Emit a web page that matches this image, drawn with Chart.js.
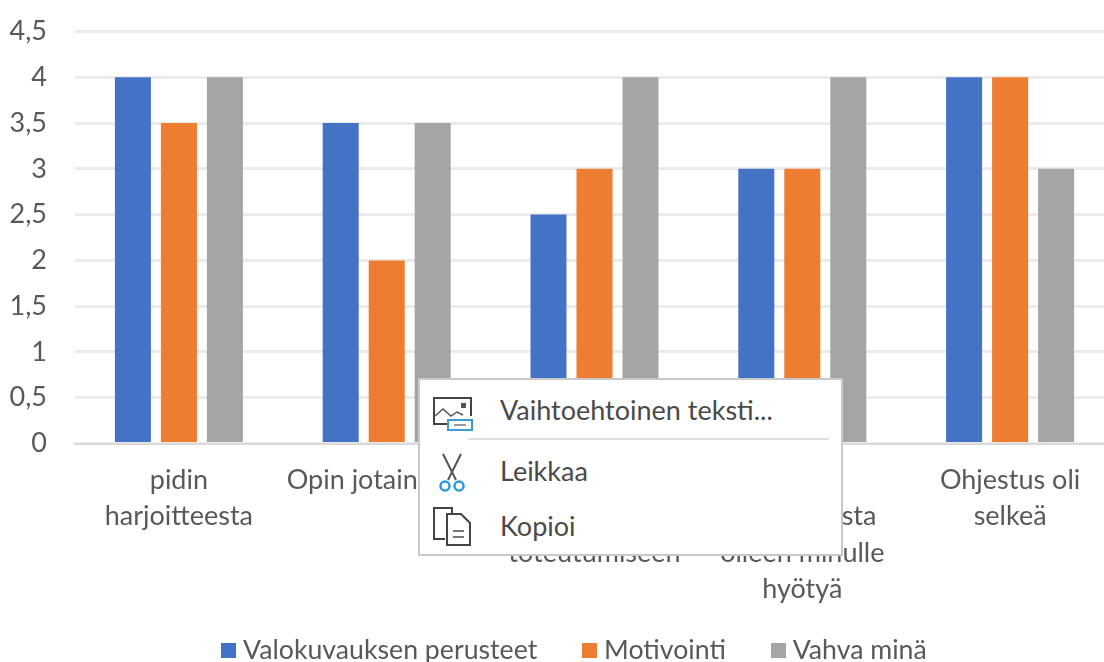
<!DOCTYPE html>
<html>
<head>
<meta charset="utf-8">
<script src="https://cdn.jsdelivr.net/npm/chart.js@4"></script>
<style>
    html, body { margin: 0; padding: 0; background: #fff; width: 1104px; height: 662px; overflow: hidden; }
    #wrap { position: relative; width: 1104px; height: 662px; overflow: hidden; filter: blur(0.6px); }
    canvas { position: absolute; left: 0; top: 0; }
    #menu { position: absolute; left: 418px; top: 378px; width: 421px; height: 174px; background: #fff; border: 2px solid #c9c9c9;
            font-family: Lato, sans-serif; font-size: 27px; color: #4a4a4a; }
    #menu div { position: absolute; left: 80px; line-height: 30px; white-space: nowrap; }
    #menu hr { position: absolute; left: 48px; top: 58px; width: 361px; margin: 0; border: 0; border-top: 2px solid #dedede; }
    #menu svg { position: absolute; left: 12px; }
</style>
</head>
<body>
<div id="wrap">
    <canvas id="surveyChart" width="1114" height="662"></canvas>
    <div id="menu">
        <svg style="top:16px" width="42" height="38" viewBox="0 0 42 38" fill="none">
            <path d="M18 28H2V2h37v18" stroke="#444" stroke-width="2"/>
            <path d="M3 20l8-7 8 7 6-4 6 3" stroke="#555" stroke-width="1.5"/>
            <rect x="29" y="7" width="5" height="5" fill="#555"/>
            <rect x="16" y="24" width="24" height="10" fill="#fff" stroke="#3a9bd5" stroke-width="2"/>
            <path d="M22 29h12" stroke="#999" stroke-width="2"/>
        </svg>
        <div style="top:15px;">Vaihtoehtoinen teksti...</div>
        <hr>
        <svg style="top:72px;left:18px" width="28" height="42" viewBox="0 0 28 42" fill="none">
            <path d="M5 2l13 26M23 2L10 28" stroke="#555" stroke-width="2"/>
            <circle cx="7" cy="34" r="4.5" stroke="#2e9bd8" stroke-width="2.5"/>
            <circle cx="21" cy="34" r="4.5" stroke="#2e9bd8" stroke-width="2.5"/>
        </svg>
        <div style="top:76px;">Leikkaa</div>
        <svg style="top:126px" width="42" height="42" viewBox="0 0 42 42" fill="none">
            <path d="M13 33H2V2h18v6" stroke="#444" stroke-width="2"/>
            <path d="M15 8h14l9 9v22H15z" fill="#fff" stroke="#444" stroke-width="2"/>
            <path d="M21 25h11M21 31h11" stroke="#777" stroke-width="2"/>
        </svg>
        <div style="top:131px;">Kopioi</div>
    </div>
</div>
<script>
const categories = [
    ['pidin', 'harjoitteesta'],
    ['Opin jotain uutta'],
    ['Harjoite', 'auttoi tavoitteen', 'toteutumiseen'],
    ['Koen', 'harjoitteesta', 'olleen minulle', 'hyötyä'],
    ['Ohjestus oli', 'selkeä']
];
const valokuvaus = [4, 3.5, 2.5, 3, 4];
const motivointi = [3.5, 2, 3, 3, 4];
const vahvaMina = [4, 3.5, 4, 4, 3];

const textColor = '#595959';
const fontName = 'Lato, sans-serif';

// legend square as an image, so the gap to the text can be tighter than the library default
function swatch(color) {
    const c = document.createElement('canvas');
    c.width = 15;
    c.height = 15;
    const g = c.getContext('2d');
    g.fillStyle = color;
    g.fillRect(0, 0, 15, 15);
    return c;
}

// the legend sits right of centre in the original; labels.padding also pushes it down, so pull the top back
const moveLegend = {
    id: 'moveLegend',
    afterLayout: function(chart) {
        const legend = chart.legend;
        legend.left += 20;
        legend.right += 20;
        legend.top -= 36;
    }
};

const ctx = document.getElementById('surveyChart').getContext('2d');
new Chart(ctx, {
    type: 'bar',
    data: {
        labels: categories,
        datasets: [
            { label: 'Valokuvauksen perusteet', data: valokuvaus, backgroundColor: '#4472c4', pointStyle: swatch('#4472c4') },
            { label: 'Motivointi', data: motivointi, backgroundColor: '#ed7d31', pointStyle: swatch('#ed7d31') },
            { label: 'Vahva minä', data: vahvaMina, backgroundColor: '#a5a5a5', pointStyle: swatch('#a5a5a5') }
        ]
    },
    plugins: [moveLegend],
    options: {
        responsive: false,
        animation: false,
        layout: { padding: { top: 31.5 } },
        datasets: { bar: { categoryPercentage: 0.664, barPercentage: 0.783 } },
        plugins: {
            tooltip: { enabled: false },
            legend: {
                position: 'bottom',
                maxHeight: 40,
                labels: {
                    color: textColor,
                    font: { family: fontName, size: 26.7 },
                    usePointStyle: true,
                    pointStyleWidth: 2.5,
                    padding: 51
                }
            }
        },
        scales: {
            x: {
                grid: { display: false, drawTicks: false },
                border: { color: '#d9d9d9', width: 2 },
                ticks: {
                    color: textColor,
                    font: { family: fontName, size: 27, lineHeight: 1.34 },
                    padding: 19,
                    autoSkip: false,
                    maxRotation: 0,
                    minRotation: 0
                },
                afterFit: function(scale) { scale.height = 178.5; }
            },
            y: {
                min: 0,
                max: 4.5,
                grid: { color: '#ebebeb', lineWidth: 3, drawTicks: false },
                border: { display: false },
                ticks: {
                    stepSize: 0.5,
                    color: textColor,
                    font: { family: fontName, size: 27 },
                    padding: 28,
                    callback: function(value) { return String(value).replace('.', ','); }
                },
                afterFit: function(scale) {
                    scale.width = 75;
                    scale.paddingTop = 0;
                    scale.paddingBottom = 0;
                }
            }
        }
    }
});
</script>
</body>
</html>
